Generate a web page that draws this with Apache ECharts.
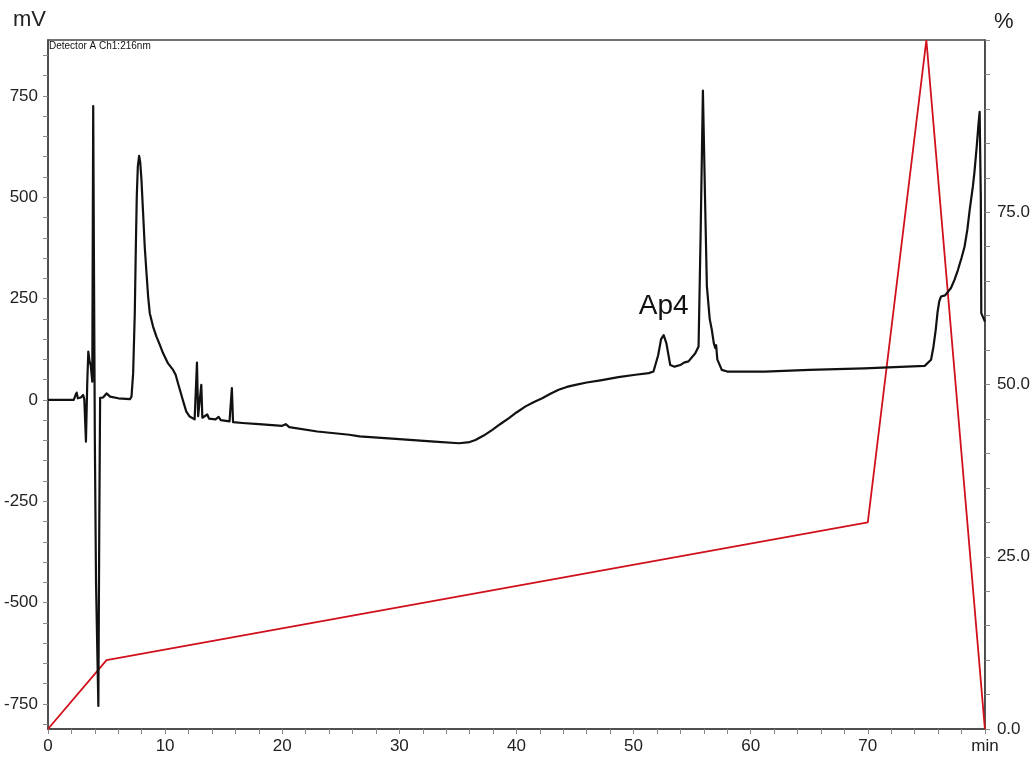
<!DOCTYPE html>
<html>
<head>
<meta charset="utf-8">
<title>Chromatogram 216 nm</title>
<script src="https://cdn.jsdelivr.net/npm/echarts@6/dist/echarts.min.js"></script>
<style>
  html, body { margin: 0; padding: 0; background: #fff; }
  #chart { width: 1033px; height: 762px; }
</style>
</head>
<body>
<div id="chart"></div>
<script>
// Detector A, channel 1 (216 nm): retention time (min) and signal (mV)
const signalTime = [
  0, 2.2, 2.35, 2.45, 2.55, 2.8, 3.0, 3.1, 3.24, 3.35, 3.44, 3.55, 3.65, 3.78,
  3.86, 3.93, 4.0, 4.1, 4.3, 4.38, 4.45, 4.7, 5.0, 5.3, 6.0, 7.0,
  7.13, 7.27, 7.41, 7.5, 7.58, 7.67, 7.78, 7.87, 7.98, 8.12, 8.26, 8.41, 8.55, 8.69,
  8.97, 9.26, 9.49, 9.6, 9.83, 10.25, 10.68, 10.9, 11.1, 11.39, 11.59, 11.81, 12.1,
  12.52, 12.65, 12.72, 12.82, 12.95, 13.09, 13.18, 13.6, 13.75, 14.3, 14.57, 14.75,
  15.5, 15.62, 15.7, 15.8, 16.6, 18.0, 20.0, 20.3, 20.6, 23.0, 25.73, 26.6, 29.99,
  33.0, 35.1, 36.0, 36.5, 37.2, 37.94, 38.6, 39.36, 40.0, 40.78, 41.5, 42.2, 42.9,
  43.6, 44.3, 45.04, 46.0, 47.3, 48.7, 50.16, 51.3, 51.7, 52.1, 52.35, 52.57, 52.8,
  53.13, 53.5, 53.99, 54.3, 54.69, 55.27, 55.55, 55.72, 55.92, 56.1, 56.26, 56.5,
  56.68, 56.85, 56.97, 57.05, 57.15, 57.53, 58.0, 61.2, 65.0, 69.7, 74.86, 75.4,
  75.6, 75.8, 75.95, 76.1, 76.25, 76.4, 76.6, 77.1, 77.4, 77.7, 78.0, 78.26, 78.5,
  78.7, 78.97, 79.1, 79.3, 79.45, 79.55, 79.65, 79.69, 80.0
];
const signalMv = [
  0, 0, 12, 18, 4, 6, 12, 2, -103, 40, 119, 95, 85, 45,
  725, 300, -100, -450, -755, -300, 5, 6, 16, 8, 4, 2,
  8, 66, 214, 378, 502, 576, 602, 588, 543, 461, 378, 313, 255, 214,
  181, 156, 140, 144, 115, 90, 74, 62, 41, 12, -8, -29, -41,
  -48, -46, 92, -40, -42, 37, -44, -36, -46, -48, -42, -50,
  -53, -50, 29, -55, -57, -60, -64, -60, -67, -78, -86, -90, -97,
  -103, -107, -104, -99, -88, -74, -60, -45, -31, -16, -5, 4, 15,
  25, 32, 37, 43, 49, 56, 62, 66, 70, 110, 150, 160, 140,
  86, 82, 86, 92, 95, 115, 132, 400, 763, 500, 280, 200,
  173, 140, 128, 135, 100, 74, 70, 70, 74, 78, 84, 99,
  130, 173, 215, 243, 255, 251, 258, 276, 296, 321, 350, 378, 420,
  469, 526, 560, 625, 680, 711, 500, 214, 193
];

// Mobile phase B gradient program (%)
const gradientTime = [0, 5, 70, 75, 80];
const gradientPct = [0, 10, 30, 100, 0];

// Annotated peak
const peakName = 'Ap4';
const peakTime = 52.57;
const peakMv = 160;

// Axis ticks and labels
const mvLabels = [-750, -500, -250, 0, 250, 500, 750];
const mvTicks = [-800, -750, -700, -650, -600, -550, -500, -450, -400, -350, -300, -250,
  -200, -150, -100, -50, 0, 50, 100, 150, 200, 250, 300, 350, 400, 450, 500, 550,
  600, 650, 700, 750, 800, 850];

const signalData = signalTime.map((t, i) => [t, signalMv[i]]);
const gradientData = gradientTime.map((t, i) => [t, gradientPct[i]]);

const axisColor = '#444';
const labelFont = '"Liberation Sans Narrow", "Liberation Sans", Arial, sans-serif';

const chart = echarts.init(document.getElementById('chart'), null, { renderer: 'canvas' });

chart.setOption({
  animation: false,
  backgroundColor: '#fff',
  grid: {
    left: 48, right: 43, top: 40, bottom: 33,
    show: true, borderColor: axisColor, borderWidth: 1.5, backgroundColor: 'transparent'
  },
  graphic: [
    { type: 'text', left: 13, top: 9,
      style: { text: 'mV', font: '22px ' + labelFont, fill: '#222' } },
    { type: 'text', left: 994, top: 11,
      style: { text: '%', font: '22px ' + labelFont, fill: '#222' } },
    { type: 'text', left: 49, top: 41,
      style: { text: 'Detector A Ch1:216nm', font: '10px ' + labelFont, fill: '#111' } }
  ],
  xAxis: {
    type: 'value', min: 0, max: 80, interval: 10,
    axisLine: { onZero: false, lineStyle: { color: axisColor, width: 1.5 } },
    axisTick: { show: true, length: 5, lineStyle: { color: '#888' } },
    minorTick: { show: true, splitNumber: 5, length: 5, lineStyle: { color: '#888' } },
    splitLine: { show: false },
    axisLabel: {
      margin: 9, color: '#222', fontSize: 17, fontFamily: labelFont,
      formatter: v => (v === 80 ? 'min' : String(v))
    }
  },
  yAxis: [
    {
      type: 'value', position: 'left', min: -812, max: 888,
      axisLine: { show: true, onZero: false, lineStyle: { color: axisColor, width: 1.5 } },
      axisTick: { show: true, length: 5, customValues: mvTicks, lineStyle: { color: '#888' } },
      splitLine: { show: false },
      axisLabel: {
        margin: 10, color: '#222', fontSize: 17, fontFamily: labelFont,
        customValues: mvLabels
      }
    },
    {
      type: 'value', position: 'right', min: 0, max: 100, interval: 25,
      axisLine: { show: true, onZero: false, lineStyle: { color: axisColor, width: 1.5 } },
      axisTick: { show: true, length: 5, lineStyle: { color: '#888' } },
      minorTick: { show: true, splitNumber: 5, length: 5, lineStyle: { color: '#888' } },
      splitLine: { show: false },
      axisLabel: {
        margin: 12, color: '#222', fontSize: 17, fontFamily: labelFont,
        formatter: v => (v === 100 ? '' : v.toFixed(1))
      }
    }
  ],
  series: [
    {
      name: 'B.Conc.',
      type: 'line',
      yAxisIndex: 1,
      data: gradientData,
      symbol: 'none',
      lineStyle: { color: '#d0101c', width: 1.8 },
      z: 2
    },
    {
      name: 'Detector A Ch1:216nm',
      type: 'line',
      yAxisIndex: 0,
      data: signalData,
      symbol: 'none',
      lineStyle: { color: '#111', width: 2.2, join: 'round' },
      z: 3,
      markPoint: {
        symbol: 'circle', symbolSize: 1,
        itemStyle: { color: 'rgba(0,0,0,0)' },
        label: {
          show: true, position: 'top', distance: 14,
          color: '#111', fontSize: 28, fontFamily: '"Liberation Sans", Arial, sans-serif',
          formatter: peakName
        },
        data: [{ coord: [peakTime, peakMv] }]
      }
    }
  ]
});
</script>
</body>
</html>
